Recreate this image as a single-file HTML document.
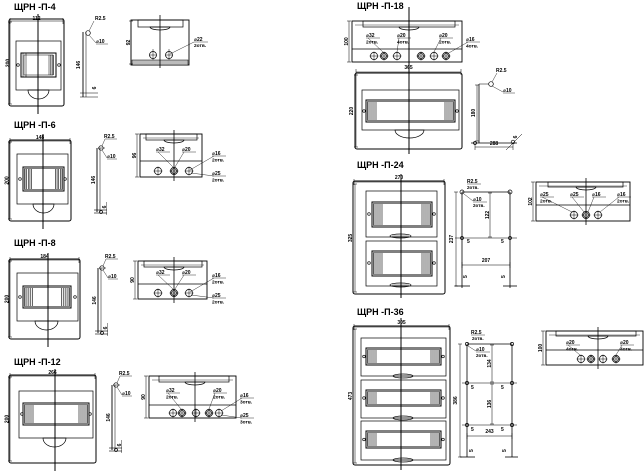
<!DOCTYPE html>
<html><head><meta charset="utf-8"><style>
html,body{margin:0;padding:0;background:#fff;width:644px;height:472px;overflow:hidden}
svg{display:block}
text{font-family:"Liberation Sans","DejaVu Sans",sans-serif;font-weight:bold;fill:#000}
</style></head><body>
<svg id="s" width="644" height="472" viewBox="0 0 644 472" xmlns="http://www.w3.org/2000/svg"></svg>
<script>
var o=[];
function L(a,b,c,d,w){o.push('<line x1="'+a+'" y1="'+b+'" x2="'+c+'" y2="'+d+'" stroke="#000" stroke-width="'+(w||0.7)+'"/>');}
function R(a,b,c,d,w,f,rx){o.push('<rect x="'+a+'" y="'+b+'" width="'+(c-a)+'" height="'+(d-b)+'" rx="'+(rx||0)+'" fill="'+(f||'none')+'" stroke="#000" stroke-width="'+(w||0.7)+'"/>');}
function C(x,y,r,f){o.push('<circle cx="'+x+'" cy="'+y+'" r="'+r+'" fill="'+(f||'none')+'" stroke="#000" stroke-width="0.7"/>');}
function T(x,y,t,s,rot,anc){o.push('<text x="'+x+'" y="'+y+'" font-size="'+(s||5.5)+'"'+(anc?' text-anchor="'+anc+'"':'')+(rot?' transform="rotate(-90 '+x+' '+y+')"':'')+'>'+t+'</text>');}
function P(d,f){o.push('<path d="'+d+'" fill="'+(f||'none')+'" stroke="#000" stroke-width="0.7"/>');}
function title(x,y,t){T(x,y,t,9);}
function win(x1,y1,x2,y2){
  R(x1,y1,x2,y2,1);
  R(x1+1.5,y1+1.5,x2-1.5,y2-1.5,0.5);
  var w=Math.min(10,(x2-x1)*0.2);
  for(var i=0;i<5;i++){L(x1+2+i*w/5,y1+2,x1+2+i*w/5,y2-2,0.6);L(x2-2-i*w/5,y1+2,x2-2-i*w/5,y2-2,0.6);}
}
function hdl(x1,x2,y,d){P('M'+x1+' '+y+' A'+((x2-x1)/2)+' '+d+' 0 0 0 '+x2+' '+y+' Z');}
function lens(x1,x2,y){o.push('<ellipse cx="'+((x1+x2)/2)+'" cy="'+y+'" rx="'+((x2-x1)/2)+'" ry="2" fill="none" stroke="#000" stroke-width="0.7"/>');L(x1+2,y,x2-2,y,0.4);}
function hdim(x1,x2,y,t,ty){L(x1,y,x2,y,0.5);L(x1,y-3,x1,y+3,0.5);L(x2,y-3,x2,y+3,0.5);T((x1+x2)/2,ty||y-1,t,5,0,'middle');}
function vdim(x,y1,y2,t,tx){L(x,y1,x,y2,0.5);L(x-2,y1,x+2,y1,0.5);L(x-2,y2,x+2,y2,0.5);T(tx||x-1,(y1+y2)/2,t,5,1,'middle');}
function hole(x,y,k){C(x,y,3.6);if(k)C(x,y,2.4);L(x-4.5,y,x+4.5,y,0.5);L(x,y-4.5,x,y+4.5,0.5);}
function side(x1,y1,x2,y2,cx1,cx2,cy2,band,holes,hy,cx,dimT){
  R(x1,y1,x2,y2,0.9);R(cx1,y1,cx2,cy2,0.7);
  hdl(cx-10,cx+10,cy2,3);
  L(x1,band,x2,band,0.7);
  L(x1+3,y1+4,x2-3,y1+4,0.4);
  holes.forEach(function(h,i){hole(h,hy,i%2);});
  L(cx,y1-4,cx,y2+4,0.8);
  vdim(x1-3,y1,y2,dimT);
}
function sfront(ox1,oy1,ox2,oy2,fx1,fy1,fx2,fy2,wy1,wy2,wx1,wx2,hx1,hx2,cx,wt,ht){
  R(ox1,oy1,ox2,oy2,1,'none',2);R(fx1,fy1,fx2,fy2,0.7);
  win(wx1,wy1,wx2,wy2);
  C(fx1+3,(wy1+wy2)/2,1.3);C(fx2-3,(wy1+wy2)/2,1.3);
  hdl(hx1,hx2,fy2,9);
  L(cx,oy1-6,cx,oy2+8,1);
  hdim(ox1+1,ox2-1,oy1+1,wt,oy1-1);
  vdim(ox1+1,oy1+2,oy2-2,ht,ox1-0.5);
}
function rail(x,y1,y2,lx,ly){
  L(x,y1,x,y2,0.9);L(x+3,y1,x+3,y2,0.5);
  C(x+4,y1,2.2);L(x+1,y1,x+8,y1,0.5);
  T(x+7,y1-10,'R2.5',5);L(x+5,y1-2,x+8,y1-9,0.4);L(x+8,y1-9,x+20,y1-9,0.4);
  T(x+10,y1+10,'⌀10',5);L(x+5,y1+2,x+10,y1+10,0.4);L(x+10,y1+11,x+20,y1+11,0.4);
  T(x-2,(y1+y2)/2,'146',5,1,'middle');
  L(x-3,y2-2,x+10,y2-2,0.6);L(x-3,y2+1,x+10,y2+1,0.6);
  C(x+4,y2,1.5);T(x+9,y2-5,'6',5,1,'middle');L(x+9.5,y2-10,x+9.5,y2+3,0.4);
}
function lbl(x,y,a,b,px,py){T(x,y,a,5);L(x,y+1,x+14,y+1,0.4);if(b)T(x,y+6.5,b,4.8);if(px)L(x+2,y+1,px,py,0.4);}

/* П-4 */
title(14,10,'ЩРН -П-4');
R(9,19,64,106,1,'none',2);R(16,41,61,90,0.7);
R(21,53,56,77,1);L(23,53,23,77,0.5);L(26,53,26,77,0.5);
for(var i=0;i<4;i++){L(49+i*1.5,55,49+i*1.5,75,0.5);}
R(24,55,53,75,0.5);
C(18,65,1.3);C(59,65,1.3);hdl(28,49,90,9);
L(38,14,38,114,1);hdim(10,63,21,'112',20);vdim(10,22,104,'200',9.5);
L(83,32,83,97,0.9);L(86,32,86,97,0.5);C(88,33,2.3);T(95,20,'R2.5',5);L(89,31,94,21,0.4);
T(96,43,'⌀10',5);L(89,35,96,43,0.4);L(96,44,108,44,0.4);T(80,65,'146',5,1,'middle');
L(80,93,98,93,0.5);L(80,97,98,97,0.5);T(96,88,'6',5,1,'middle');
R(131,20,189,65,0.9);R(138,20,183,27,0.7);hdl(150,170,27,3);
R(132,60,188,65,0.5,'#bbb');
[153,169].forEach(function(x){C(x,55,3.5);L(x,49,x,60,0.5);L(x-4,55,x+4,55,0.5);});
L(160,15,160,68,0.8);vdim(131,21,64,'92',130);
T(194,41,'⌀22',5);L(194,42,208,42,0.4);T(194,47,'2отв.',4.8);L(170,54,194,42,0.4);

/* П-6 */
title(14,128,'ЩРН -П-6');
sfront(9,140,71,221,17,154,68,204,167,191,23,64,33,54,43,'148','200');
rail(97,148,212);
side(140,134,202,177,146,197,140,161,[158,174,189],171,174,'96');
lbl(156,151,'⌀32','',173,167);lbl(182,151,'⌀20','',175,167);
lbl(212,155,'⌀16','2отв.',190,170);lbl(212,175,'⌀25','2отв.',191,173);

/* П-8 */
title(14,246,'ЩРН -П-8');
sfront(9,259,80,339,17,273,78,321,286,308,23,71,35,58,48,'184','200');
rail(98,268,333);
side(138,261,207,299,144,202,267,284,[158,174,189],293,174,'90');
lbl(156,274,'⌀32','',173,289);lbl(182,274,'⌀20','',175,289);
lbl(212,277,'⌀16','2отв.',190,292);lbl(212,297,'⌀25','2отв.',191,295);

/* П-12 */
title(14,365,'ЩРН -П-12');
sfront(9,375,96,463,19,391,93,438,403,425,23,89,43,66,55,'266','200');
rail(112,385,450);
side(149,376,236,418,159,229,382,405,[173,182,196,209,219],413,195,'90');
lbl(166,392,'⌀32','2отв.',181,409);lbl(213,392,'⌀20','2отв.',209,409);
lbl(240,397,'⌀16','3отв.',221,411);lbl(240,417,'⌀25','3отв.',221,415);

/* П-18 */
title(357,9,'ЩРН -П-18');
side(352,21,462,62,363,455,27,49,[374,384,397,421,434,446],56,409,'100');
lbl(366,37,'⌀32','2отв.',383,52);lbl(397,37,'⌀20','4отв.',397,52);lbl(439,37,'⌀20','2отв.',434,52);lbl(466,41,'⌀16','4отв.',447,54);
R(355,73,462,149,1,'none',2);R(362,90,459,130,0.7);win(366,100,455,122);C(364,111,1.3);C(457,111,1.3);
hdl(395,424,130,8);L(409,7,409,154,1);hdim(356,461,72,'365',69);vdim(356,75,147,'220',353);
L(479,84,479,143,0.8);L(471,143,517,143,0.8);L(479,84,489,84,0.5);C(491,84,2.3);
T(496,72,'R2.5',5);L(492,82,497,73,0.4);T(503,92,'⌀10',5);L(492,86,503,92,0.4);L(503,93,515,93,0.4);
vdim(477,85,141,'180',475);hdim(475,513,147,'288',145);C(475,143,1.5);C(513,142,1.8);
L(506,150,522,134,0.5);T(517,137,'6',5,1,'middle');

/* П-24 */
title(357,168,'ЩРН -П-24');
R(353,181,445,294,1,'none',2);
R(366,191,437,237,0.7);win(372,202,432,227);C(369,214,1.3);C(434,214,1.3);lens(390,411,236);
R(366,241,437,286,0.7);win(372,251,432,276);C(369,263,1.3);C(434,263,1.3);lens(390,411,285);
L(401,174,401,298,1);hdim(354,444,182,'270',179);vdim(355,184,292,'325',352);
L(462,192,462,288,0.8);L(510,192,510,288,0.8);L(462,192,510,192,0.8);L(455,238,517,238,0.6);
C(462,192,2);C(510,192,2);C(462,238,1.5);C(510,238,1.5);
L(455,286,470,286,0.8);L(503,286,517,286,0.8);
vdim(490,193,237,'122',489);hdim(462,510,265,'207',262);vdim(456,192,286,'237',453);
T(467,243,'5',5);T(501,243,'5',5);T(467,278,'5',5,1);T(505,278,'5',5,1);
T(467,183,'R2.5',5);L(467,184,481,184,0.4);T(467,189,'2отв.',4.6);
T(473,201,'⌀10',5);L(473,202,487,202,0.4);T(473,207,'2отв.',4.6);L(464,194,473,201,0.4);
side(536,182,630,221,548,623,187,205,[574,586,598],215,586,'102');
lbl(540,196,'⌀25','2отв.',572,212);lbl(570,196,'⌀25','',584,212);lbl(592,196,'⌀16','',588,212);lbl(617,196,'⌀16','2отв.',600,212);

/* П-36 */
title(357,315,'ЩРН -П-36');
R(353,326,450,465,1,'none',2);
[[338,376,348,365],[380,418,390,406],[421,460,431,448]].forEach(function(r){
  R(361,r[0],446,r[1],0.7);win(366,r[2],441,r[3]);C(364,(r[2]+r[3])/2,1.3);C(443,(r[2]+r[3])/2,1.3);lens(393,413,r[1]);
});
L(401,318,401,470,1);hdim(354,449,327,'305',324);vdim(355,329,463,'473',352);
L(467,344,467,457,0.8);L(512,344,512,457,0.8);L(467,344,512,344,0.8);
L(462,383,517,383,0.6);L(462,425,517,425,0.6);
[344,383,425].forEach(function(y){C(467,y,1.6);C(512,y,1.6);});
L(460,457,475,457,0.8);L(505,457,518,457,0.8);
vdim(492,345,382,'134',491);vdim(492,384,424,'136',491);hdim(467,512,436,'243',433);vdim(460,344,457,'386',457);
T(471,389,'5',5);T(501,389,'5',5);T(471,431,'5',5);T(501,431,'5',5);T(473,452,'5',5,1);T(506,452,'5',5,1);
T(471,334,'R2.5',5);L(471,335,485,335,0.4);T(472,340,'2отв.',4.6);
T(476,351,'⌀10',5);L(476,352,490,352,0.4);T(476,357,'2отв.',4.6);L(468,346,476,351,0.4);
side(546,331,643,365,556,636,336,350,[581,591,603,616],359,598,'100');
lbl(566,344,'⌀20','4отв.',580,355);lbl(620,344,'⌀20','4отв.',616,355);

document.getElementById('s').innerHTML=o.join('');
</script>
</body></html>
